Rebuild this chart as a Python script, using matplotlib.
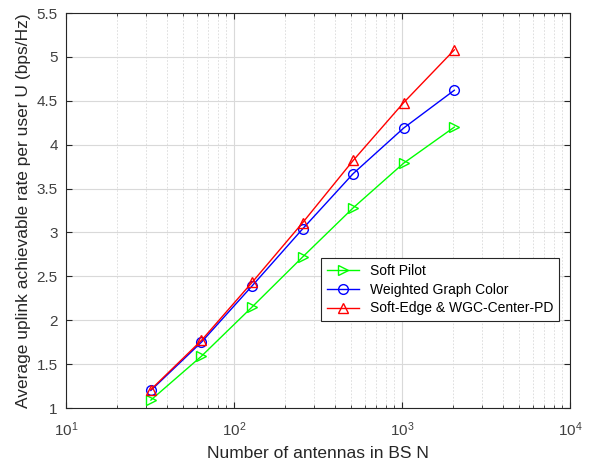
import matplotlib.pyplot as plt
from matplotlib.ticker import LogLocator, NullFormatter, MultipleLocator

plt.rcParams['font.family'] = ['Liberation Sans', 'DejaVu Sans']

antennas = [32, 64, 128, 256, 512, 1024, 2048]
soft_pilot = [1.09, 1.59, 2.15, 2.72, 3.28, 3.79, 4.20]
wgc = [1.20, 1.75, 2.39, 3.04, 3.67, 4.19, 4.62]
soft_edge = [1.21, 1.77, 2.43, 3.11, 3.82, 4.48, 5.08]

series = [
    ("Soft Pilot", soft_pilot, "#00ff00", ">"),
    ("Weighted Graph Color", wgc, "#0000ff", "o"),
    ("Soft-Edge & WGC-Center-PD", soft_edge, "#ff0000", "^"),
]

fig = plt.figure(figsize=(5.91, 4.63), dpi=100)
ax = fig.add_axes([66 / 591, 1 - 408 / 463, (570 - 66) / 591, (408 - 13) / 463])

for label, vals, color, marker in series:
    ax.plot(antennas, vals, color=color, marker=marker, markersize=7,
            markerfacecolor="none", markeredgewidth=1.0, linewidth=1.0, label=label)

ax.set_xscale("log")
ax.set_xlim(10, 10000)
ax.set_ylim(1, 5.5)
ax.yaxis.set_major_locator(MultipleLocator(0.5))
ax.xaxis.set_major_locator(LogLocator(base=10))
ax.xaxis.set_minor_locator(LogLocator(base=10, subs=range(2, 10)))
ax.xaxis.set_minor_formatter(NullFormatter())
ax.yaxis.set_major_formatter(plt.FuncFormatter(lambda v, p: f"{v:g}"))

ax.grid(True, which="major", color="#d9d9d9", linewidth=0.8)
ax.grid(True, which="minor", axis="x", color="#d9d9d9", linestyle=(0, (2, 2)), linewidth=0.6)
ax.set_axisbelow(True)

ax.tick_params(which="both", direction="in", top=True, right=True,
               colors="#262626", labelcolor="#404040", labelsize=11)
ax.tick_params(which="major", length=4)
ax.tick_params(which="minor", length=2)
ax.tick_params(axis="x", which="major", pad=9)
ax.tick_params(axis="y", which="major", pad=6)
for s in ax.spines.values():
    s.set_color("#262626")
    s.set_linewidth(0.8)

ax.set_xlabel("Number of antennas in BS N", fontsize=12.5, color="#262626", labelpad=5)
ax.set_ylabel("Average uplink achievable rate per user U (bps/Hz)", fontsize=12.5, color="#262626")

leg = ax.legend(loc="lower right", bbox_to_anchor=((559 - 66) / 504, (408 - 321) / 395),
                borderaxespad=0, fontsize=10, fancybox=False, edgecolor="#262626",
                framealpha=1, borderpad=0.4, handlelength=2.3, labelspacing=0.35)
leg.get_frame().set_linewidth(0.8)

fig.savefig("out.png", dpi=100)
